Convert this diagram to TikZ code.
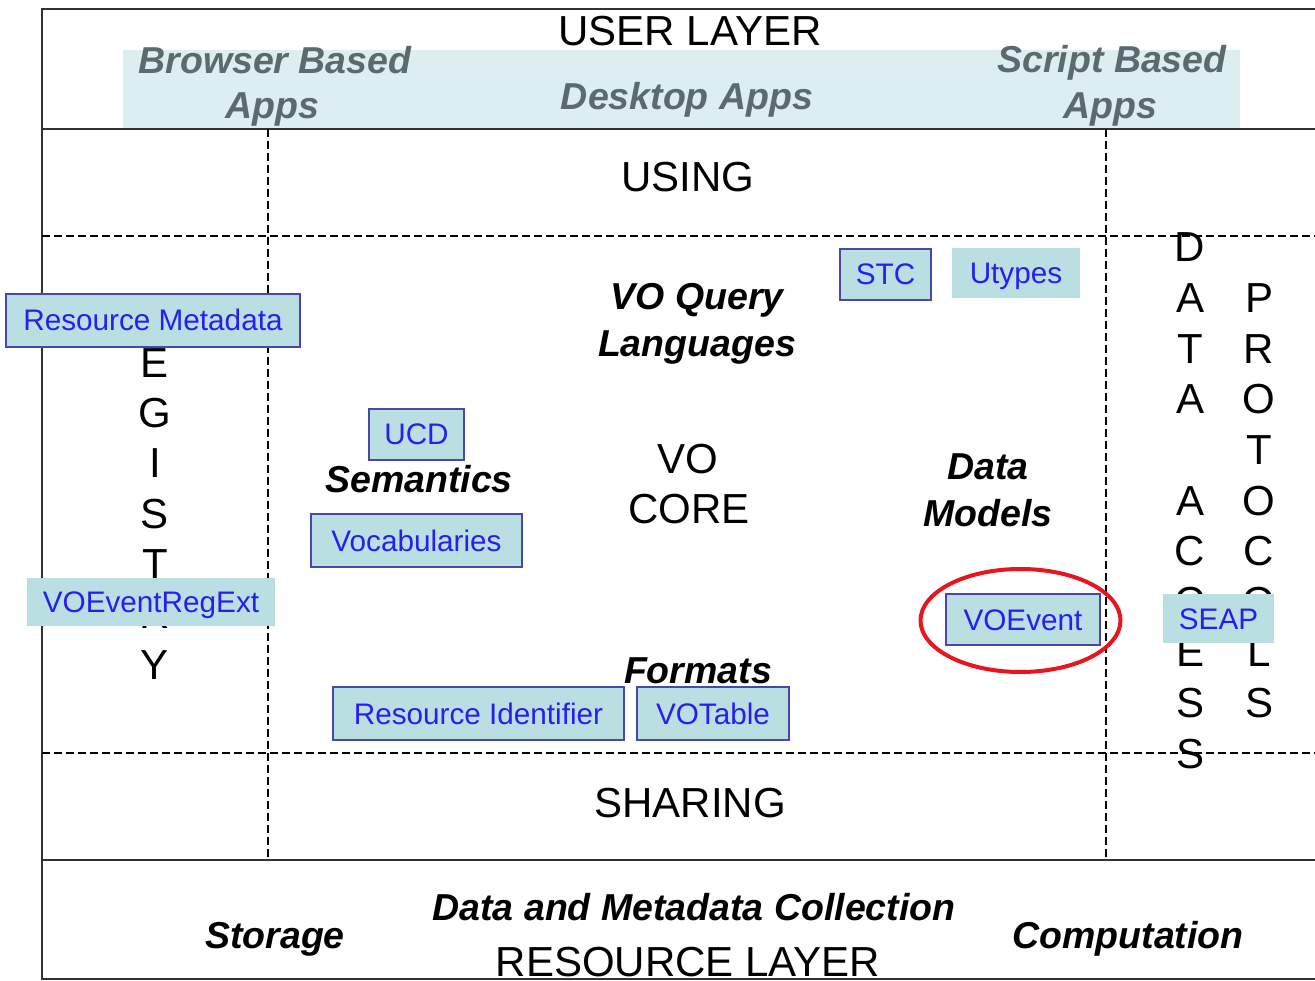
\documentclass[tikz,border=0pt]{standalone}
\usepackage{fontspec}
\setmainfont{Liberation Sans}
\usetikzlibrary{shapes.geometric}
\definecolor{band}{RGB}{221,238,240}
\definecolor{boxfill}{RGB}{185,223,226}
\definecolor{boxline}{RGB}{72,72,168}
\definecolor{boxtext}{RGB}{40,30,245}
\definecolor{greytext}{RGB}{92,106,110}
\definecolor{framecol}{RGB}{50,50,50}
\definecolor{ring}{RGB}{232,20,30}
\begin{document}
\begin{tikzpicture}[x=1pt,y=-1pt,
  big/.style={font=\fontsize{42}{48}\selectfont, inner sep=0, anchor=base},
  lbl/.style={font=\fontsize{37.5}{42}\selectfont\bfseries\itshape, inner sep=0, anchor=base},
  app/.style={lbl, text=greytext},
  letter/.style={font=\fontsize{42}{48}\selectfont, inner sep=0, anchor=base},
  vbox/.style={draw=boxline, line width=2pt, fill=boxfill, text=boxtext,
    font=\fontsize{29.7}{34}\selectfont, inner sep=0, text height=21pt, text depth=0pt},
  pbox/.style={vbox, draw=none},
  solidline/.style={draw=framecol, line width=2.5pt},
  dashline/.style={draw=black, line width=1.8pt, dash pattern=on 8pt off 4pt}]
\useasboundingbox (0,0) rectangle (1315,981);
% band
\fill[band] (123,50) rectangle (1240,129);
% frame
\coordinate (tl) at (42,9);
\coordinate (tr) at (1315,9);
\coordinate (bl) at (42,979);
\coordinate (br) at (1315,979);
\draw[solidline] (tr) -- (tl) -- (bl) -- (br);
\coordinate (ul) at (42,129);
\coordinate (ur) at (1315,129);
\coordinate (ll) at (42,860);
\coordinate (lr) at (1315,860);
\draw[solidline] (ul) -- (ur);
\draw[solidline] (ll) -- (lr);
% dashed
\coordinate (d1l) at (42,236);
\coordinate (d1r) at (1315,236);
\coordinate (d2l) at (42,753);
\coordinate (d2r) at (1315,753);
\coordinate (v1t) at (268,129);
\coordinate (v1b) at (268,860);
\coordinate (v2t) at (1106,129);
\coordinate (v2b) at (1106,860);
\draw[dashline] (d1l) -- (d1r);
\draw[dashline] (d2l) -- (d2r);
\draw[dashline] (v1t) -- (v1b);
\draw[dashline] (v2t) -- (v2b);
% user layer
\node[big] (userlayer) at (690,46) {USER LAYER};
\node[app] (bb1) at (275,74) {Browser Based};
\node[app] (bb2) at (272,119) {Apps};
\node[app] (desk) at (687,110) {Desktop Apps};
\node[app] (sb1) at (1112,73) {Script Based};
\node[app] (sb2) at (1110,119) {Apps};
\node[big] (using) at (688,192) {USING};
% core labels
\node[lbl] (voq1) at (697,310) {VO Query};
\node[lbl] (voq2) at (697,357) {Languages};
\node[lbl] (sem) at (419,492) {Semantics};
\node[big] (vo1) at (688,473) {VO};
\node[big] (vo2) at (689,523) {CORE};
\node[lbl] (dm1) at (988,479) {Data};
\node[lbl] (dm2) at (988,526) {Models};
\node[lbl] (fmt) at (698,683) {Formats};
\node[big] (sharing) at (690,817) {SHARING};
% resource layer
\node[lbl] (dmc) at (694,920) {Data and Metadata Collection};
\node[lbl] (stor) at (275,948) {Storage};
\node[lbl] (comp) at (1128,948) {Computation};
\node[big] (reslayer) at (688,976) {RESOURCE LAYER};
% vertical words
\foreach \ch [count=\i from 0] in {R,E,G,I,S,T,R,Y}
  \node[letter] (reg\i) at (155,{327+50.3*\i}) {\ch};
\foreach \ch [count=\i from 0] in {D,A,T,A,{},A,C,C,E,S,S}
  \node[letter] (da\i) at (1190,{262+50.6*\i}) {\ch};
\foreach \ch [count=\i from 1] in {P,R,O,T,O,C,O,L,S}
  \node[letter] (pr\i) at (1259,{262+50.6*\i}) {\ch};
% boxes
\node[vbox, minimum width=91pt, minimum height=51pt] (stc) at (885.5,274.5) {STC};
\node[pbox, minimum width=128pt, minimum height=50pt] (utypes) at (1016,273) {Utypes};
\node[vbox, minimum width=294pt, minimum height=53pt] (resmeta) at (153,320.5) {Resource Metadata};
\node[vbox, minimum width=95pt, minimum height=51pt] (ucd) at (416.5,434.5) {UCD};
\node[vbox, minimum width=211pt, minimum height=53pt] (vocab) at (416.5,540.5) {Vocabularies};
\node[pbox, minimum width=248pt, minimum height=48pt] (regext) at (151,602) {VOEventRegExt};
\node[vbox, minimum width=154pt, minimum height=51pt] (voevent) at (1023,619.5) {VOEvent};
\node[pbox, minimum width=111pt, minimum height=49pt] (seap) at (1218.5,618.5) {SEAP};
\node[vbox, minimum width=291pt, minimum height=53pt] (resid) at (478.5,713.5) {Resource Identifier};
\node[vbox, minimum width=152pt, minimum height=53pt] (votable) at (713,713.5) {VOTable};
% highlight ring
\node[draw=ring, line width=4pt, ellipse, minimum width=200pt, minimum height=103pt, inner sep=0] (ring) at (1020.5,620.5) {};
\end{tikzpicture}
\end{document}
